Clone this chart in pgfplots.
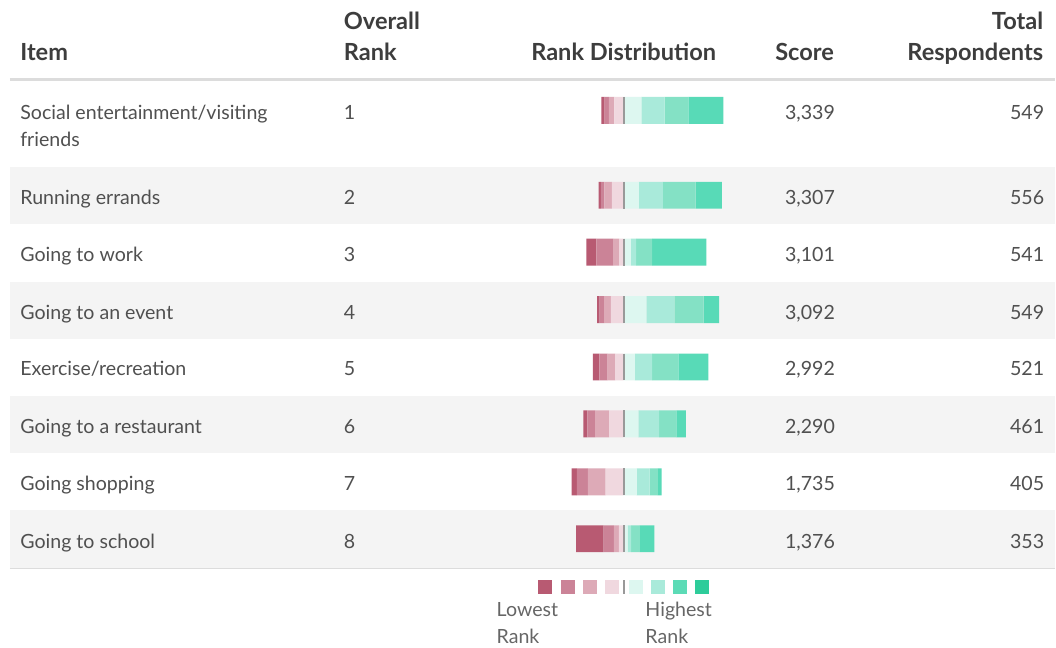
\documentclass[border=0pt]{standalone}
\usepackage{pgfplots}
\pgfplotsset{compat=1.18}
\usepackage{pgfplotstable}
\usepackage{fontspec}
\setmainfont{Lato}

\definecolor{pfour}{HTML}{B85A72}
\definecolor{pthree}{HTML}{CB8397}
\definecolor{ptwo}{HTML}{DDAAB7}
\definecolor{pone}{HTML}{F0D8DF}
\definecolor{gone}{HTML}{DDF7F0}
\definecolor{gtwo}{HTML}{A9EADA}
\definecolor{gthree}{HTML}{84E1C5}
\definecolor{gfour}{HTML}{58DAB7}
\definecolor{lgthree}{HTML}{5CDBB6}
\definecolor{lgfour}{HTML}{2ECC9A}
\definecolor{rowgray}{HTML}{F4F4F4}
\definecolor{rulegray}{HTML}{DCDCDC}
\definecolor{headtext}{HTML}{3D3D3D}
\definecolor{bodytext}{HTML}{505050}

% counts per rank: p1 = rank 5 ... p4 = rank 8 (lowest), g1 = rank 4 ... g4 = rank 1 (highest)
\pgfplotstableread{
pos   p1 p2 p3 p4  g1  g2  g3  g4
110.5 42 25 19 14  80  105 107 157
195.5 53 34 15 11  69  108 147 119
252.5 20 27 76 45  33  23  72  245
310   58 30 20 11  103 126 132 69
367.5 38 34 37 30  51  77  119 135
424.5 65 63 35 18  67  93  78  42
482.5 81 80 50 23  59  58  37  17
539.5 21 23 46 124 18  16  39  66
}\ranks

\pgfplotsset{
  distaxis/.style={
    at={(bsw)}, anchor=south west,
    width=90pt, height=240pt, scale only axis, hide axis,
    xmin=-290.25, xmax=519.75, ymin=80, ymax=560, y dir=reverse,
    xbar stacked, bar width=27,
    every axis plot/.append style={draw=none},
  }
}

\newcommand{\hd}{\fontsize{11.8}{13}\selectfont\bfseries\color{headtext}}
\newcommand{\bd}{\fontsize{9.8}{11}\selectfont\color{bodytext}}
\newcommand{\keytext}{\fontsize{9.8}{11}\selectfont\color{black!60}}

\begin{document}
\begin{tikzpicture}
\begin{scope}[x=0.5pt, y=-0.5pt]
\fill[white] (0,0) rectangle (1056,648);
\coordinate (bsw) at (560,560);
% row stripes
\foreach \a/\b in {167/224, 282/339, 397/454, 511/569}
  \fill[rowgray] (10,\a) rectangle (1056,\b);
\draw[rulegray, line width=1.5pt] (10,80) -- (1056,80);
\draw[rulegray, line width=0.5pt] (10,569) -- (1056,569);

% header
\node[anchor=base west, inner sep=0] at (20,60.5) {\hd Item};
\node[anchor=base west, inner sep=0] at (344,29.5) {\hd Overall};
\node[anchor=base west, inner sep=0] at (344,60.5) {\hd Rank};
\node[anchor=base east, inner sep=0] at (717.5,60.5) {\hd Rank Distribution};
\node[anchor=base east, inner sep=0] at (835.5,60.5) {\hd Score};
\node[anchor=base east, inner sep=0] at (1045,29.5) {\hd Total};
\node[anchor=base east, inner sep=0] at (1045,60.5) {\hd Respondents};

% rows
\node[anchor=base west, inner sep=0] at (20,119.5) {\bd Social entertainment/visiting};
\node[anchor=base west, inner sep=0] at (20,146.5) {\bd friends};
\foreach \yb/\name/\rk/\sc/\tot in {
  119.5/{}/1/{3,339}/549,
  204.5/{Running errands}/2/{3,307}/556,
  261.5/{Going to work}/3/{3,101}/541,
  319.5/{Going to an event}/4/{3,092}/549,
  376.5/{Exercise/recreation}/5/{2,992}/521,
  434.5/{Going to a restaurant}/6/{2,290}/461,
  491.5/{Going shopping}/7/{1,735}/405,
  549.5/{Going to school}/8/{1,376}/353}{
  \node[anchor=base west, inner sep=0] at (20,\yb) {\bd \name};
  \node[anchor=base west, inner sep=0] at (344,\yb) {\bd \rk};
  \node[anchor=base east, inner sep=0] at (836.5,\yb) {\bd \sc};
  \node[anchor=base east, inner sep=0] at (1046,\yb) {\bd \tot};
}
\end{scope}

% lower ranks, to the left of the centre
\begin{axis}[distaxis]
\addplot[fill=pone]   table[x expr=-\thisrow{p1}, y=pos] {\ranks};
\addplot[fill=ptwo]   table[x expr=-\thisrow{p2}, y=pos] {\ranks};
\addplot[fill=pthree] table[x expr=-\thisrow{p3}, y=pos] {\ranks};
\addplot[fill=pfour]  table[x expr=-\thisrow{p4}, y=pos] {\ranks};
\end{axis}
% higher ranks, to the right
\begin{axis}[distaxis]
\addplot[fill=gone]   table[x=g1, y=pos] {\ranks};
\addplot[fill=gtwo]   table[x=g2, y=pos] {\ranks};
\addplot[fill=gthree] table[x=g3, y=pos] {\ranks};
\addplot[fill=gfour]  table[x=g4, y=pos] {\ranks};
\end{axis}

\begin{scope}[x=0.5pt, y=-0.5pt]
\foreach \c in {110.5,195.5,252.5,310,367.5,424.5,482.5,539.5}
  \draw[gray!80, line width=1.1pt] (624.5,\c-13.5) -- (624.5,\c+13.5);
% key
\foreach \x/\col in {539/pfour, 562/pthree, 584/ptwo, 606/pone, 630/gone, 652/gtwo, 674/lgthree, 696/lgfour}
  \fill[\col] (\x,581) rectangle (\x+13.5,594.5);
\draw[gray!80, line width=1.1pt] (624.5,581) -- (624.5,594.5);
\node[anchor=base west, inner sep=0] at (497,617) {\keytext Lowest};
\node[anchor=base west, inner sep=0] at (497,644) {\keytext Rank};
\node[anchor=base west, inner sep=0] at (646,617) {\keytext Highest};
\node[anchor=base west, inner sep=0] at (646,644) {\keytext Rank};
\end{scope}
\end{tikzpicture}
\end{document}
